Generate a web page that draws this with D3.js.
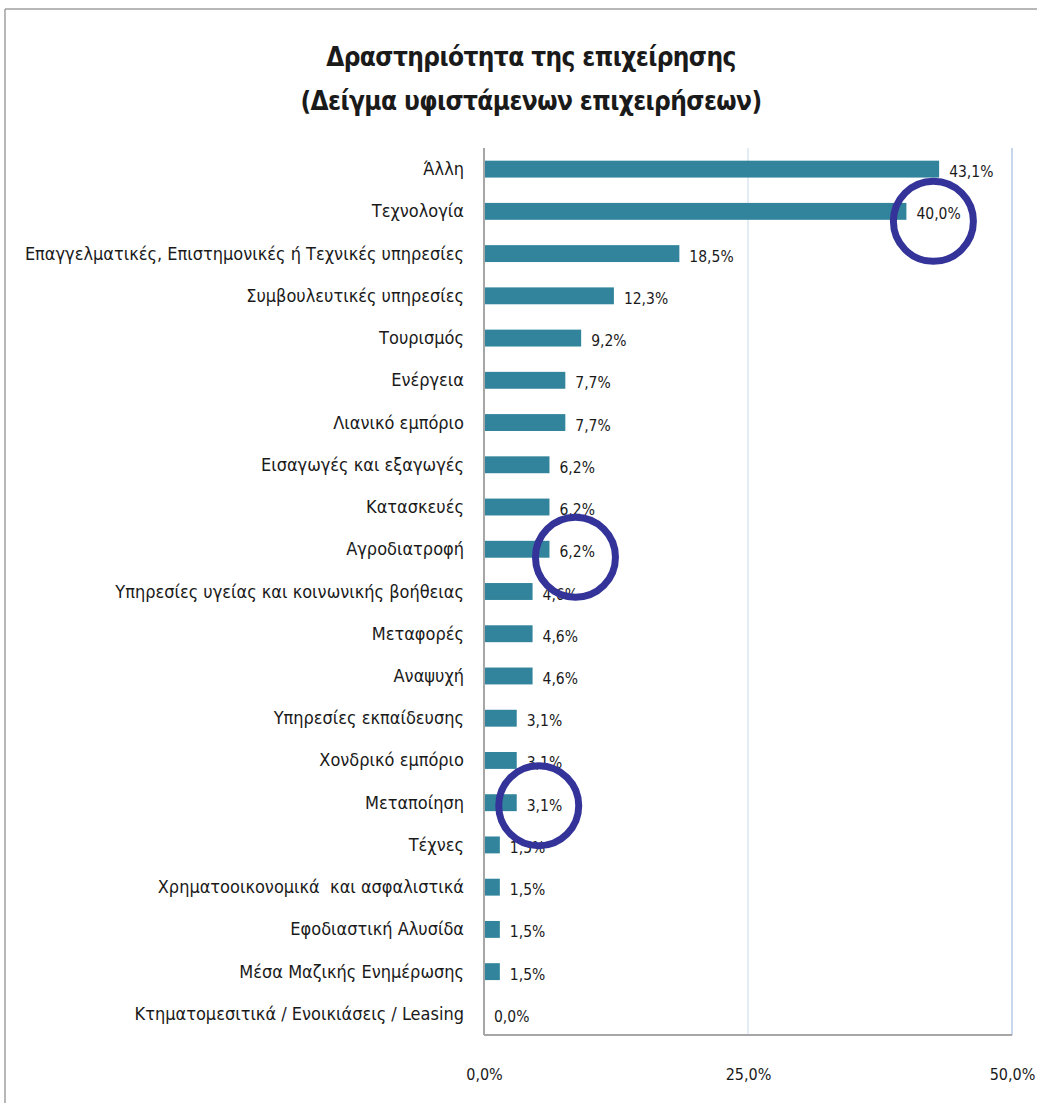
<!DOCTYPE html>
<meta charset="utf-8">
<style>
body { margin: 0; background: #fff; }
text { font-family: "Liberation Sans Narrow", "DejaVu Sans Condensed", sans-serif; fill: #1a1a1a; white-space: pre; }
.title { font-weight: bold; font-size: 26px; letter-spacing: -0.6px; }
.cat { font-size: 18px; }
.val { font-size: 15.5px; }
.tick text { font-size: 16px; font-family: "Liberation Sans Narrow", "DejaVu Sans Condensed", sans-serif; }
</style>
<body></body>
<script src="https://d3js.org/d3.v7.min.js"></script>
<script>

var categories = [
  "Άλλη",
  "Τεχνολογία",
  "Επαγγελματικές, Επιστημονικές ή Τεχνικές υπηρεσίες",
  "Συμβουλευτικές υπηρεσίες",
  "Τουρισμός",
  "Ενέργεια",
  "Λιανικό εμπόριο",
  "Εισαγωγές και εξαγωγές",
  "Κατασκευές",
  "Αγροδιατροφή",
  "Υπηρεσίες υγείας και κοινωνικής βοήθειας",
  "Μεταφορές",
  "Αναψυχή",
  "Υπηρεσίες εκπαίδευσης",
  "Χονδρικό εμπόριο",
  "Μεταποίηση",
  "Τέχνες",
  "Χρηματοοικονομικά  και ασφαλιστικά",
  "Εφοδιαστική Αλυσίδα",
  "Μέσα Μαζικής Ενημέρωσης",
  "Κτηματομεσιτικά / Ενοικιάσεις / Leasing"
];
var values = [43.1, 40.0, 18.5, 12.3, 9.2, 7.7, 7.7, 6.2, 6.2, 6.2, 4.6, 4.6, 4.6, 3.1, 3.1, 3.1, 1.5, 1.5, 1.5, 1.5, 0.0];
var xTicks = [0, 25, 50];
var circled = ["Τεχνολογία", "Αγροδιατροφή", "Μεταποίηση"];
var titleLines = ["Δραστηριότητα της επιχείρησης", "(Δείγμα υφιστάμενων επιχειρήσεων)"];

var width = 1037, height = 1103;
var mLeft = 484, mRight = 1012, mTop = 148, mBottom = 1035;

var gr = d3.formatLocale({decimal: ",", thousands: ".", grouping: [3], currency: ["", "€"]});
var fmt = gr.format(".1f");

var data = categories.map(function(c, i) { return {cat: c, v: values[i]}; });

var svg = d3.select("body").append("svg")
    .attr("width", width)
    .attr("height", height);

// frame
svg.append("line").attr("x1", 5).attr("x2", width).attr("y1", 9).attr("y2", 9)
    .attr("stroke", "#a0a0a0").attr("stroke-width", 1.5);
svg.append("line").attr("x1", 5).attr("x2", 5).attr("y1", 9).attr("y2", height)
    .attr("stroke", "#a0a0a0").attr("stroke-width", 1.5);

svg.selectAll("text.title")
    .data(titleLines)
  .enter().append("text")
    .attr("class", "title")
    .attr("x", 531)
    .attr("y", function(d, i) { return 66 + i * 44; })
    .attr("text-anchor", "middle")
    .text(function(d) { return d; });

var x = d3.scaleLinear().domain([0, 50]).range([mLeft, mRight]);
var y = d3.scaleBand().domain(categories).range([mTop, mBottom])
    .paddingInner(0.6).paddingOuter(0.3);

// gridlines
svg.append("g")
  .selectAll("line")
  .data(xTicks.slice(1))
  .enter().append("line")
    .attr("x1", function(d) { return x(d); })
    .attr("x2", function(d) { return x(d); })
    .attr("y1", mTop)
    .attr("y2", mBottom)
    .attr("stroke", function(d, i) { return i == 1 ? "#b4c7e7" : "#dce6f2"; })
    .attr("stroke-width", 1.5);

svg.append("line")
    .attr("x1", mLeft).attr("x2", mRight).attr("y1", mBottom).attr("y2", mBottom)
    .attr("stroke", "#a6a6a6").attr("stroke-width", 2);

svg.append("g")
  .selectAll("rect")
  .data(data)
  .enter().append("rect")
    .attr("x", x(0))
    .attr("y", function(d) { return y(d.cat); })
    .attr("width", function(d) { return x(d.v) - x(0); })
    .attr("height", y.bandwidth())
    .attr("fill", "#31849b");

svg.append("line")
    .attr("x1", mLeft).attr("x2", mLeft).attr("y1", mTop).attr("y2", mBottom)
    .attr("stroke", "#a6a6a6").attr("stroke-width", 2);

// category labels
svg.append("g")
  .selectAll("text")
  .data(data)
  .enter().append("text")
    .attr("class", "cat")
    .attr("x", mLeft - 20)
    .attr("y", function(d) { return y(d.cat) + y.bandwidth() / 2 + 6; })
    .attr("text-anchor", "end")
    .text(function(d) { return d.cat; });

// value labels
svg.append("g")
  .selectAll("text")
  .data(data)
  .enter().append("text")
    .attr("class", "val")
    .attr("x", function(d) { return x(d.v) + 10; })
    .attr("y", function(d) { return y(d.cat) + y.bandwidth() / 2 + 8; })
    .text(function(d) { return fmt(d.v) + "%"; });

// x axis labels
var xAxis = d3.axisBottom(x).tickValues(xTicks).tickSize(0)
    .tickFormat(function(d) { return fmt(d) + "%"; });
svg.append("g")
    .attr("transform", "translate(0," + (mBottom + 31) + ")")
    .call(xAxis)
    .call(function(g) { g.select(".domain").remove(); })
    .selectAll("text").attr("fill", "#1a1a1a");

// annotation circles
var circleOff = {"Τεχνολογία": [27, 10], "Αγροδιατροφή": [26, 8], "Μεταποίηση": [22, 3]};
svg.append("g")
  .selectAll("circle")
  .data(data.filter(function(d) { return circled.indexOf(d.cat) >= 0; }))
  .enter().append("circle")
    .attr("cx", function(d) { return x(d.v) + circleOff[d.cat][0]; })
    .attr("cy", function(d) { return y(d.cat) + y.bandwidth() / 2 + circleOff[d.cat][1]; })
    .attr("r", 40)
    .attr("fill", "none")
    .attr("stroke", "#333399")
    .attr("stroke-width", 7);

</script>
